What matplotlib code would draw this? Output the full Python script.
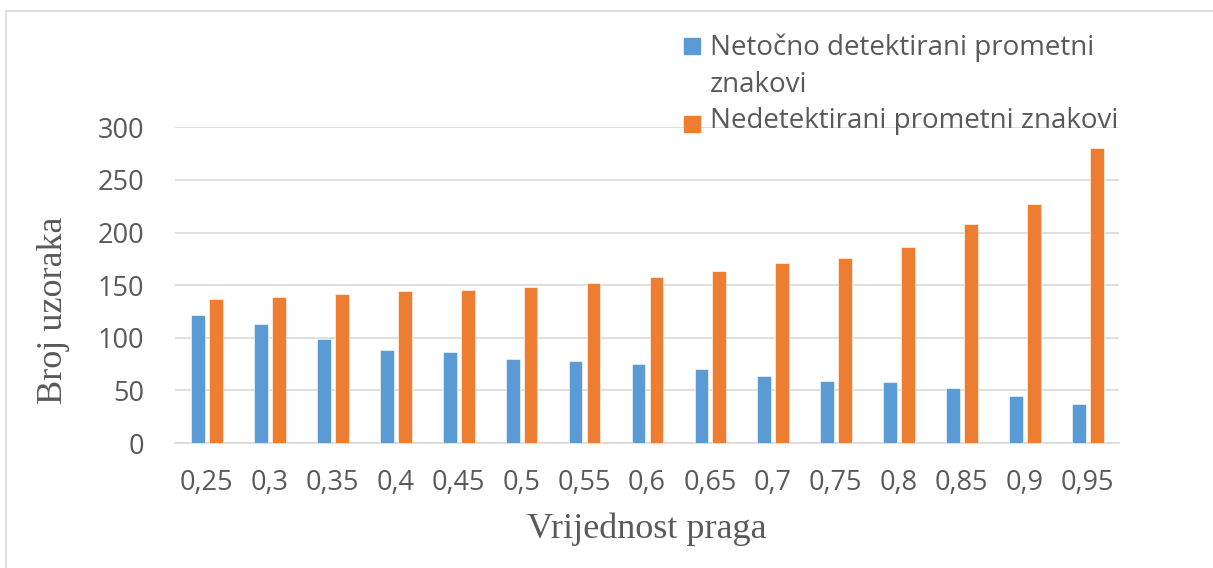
import matplotlib
matplotlib.use("Agg")
import matplotlib.pyplot as plt
import numpy as np
from matplotlib.lines import Line2D
from matplotlib.patches import Rectangle

# data
pragovi = ["0,25", "0,3", "0,35", "0,4", "0,45", "0,5", "0,55", "0,6",
           "0,65", "0,7", "0,75", "0,8", "0,85", "0,9", "0,95"]
netocno = [122, 113, 99, 88, 86, 80, 78, 75, 70, 64, 59, 58, 52, 45, 37]
nedetektirano = [137, 139, 142, 144, 145, 148, 152, 158, 163, 171, 176,
                 186, 208, 227, 280]
legenda = ["Netočno detektirani prometni\nznakovi",
           "Nedetektirani prometni znakovi"]

plava = "#5B9BD5"
narancasta = "#ED7D31"
siva = "#595959"
mreza = "#D9D9D9"
sans = "Open Sans"

W, H = 1213, 568
fig = plt.figure(figsize=(W / 100, H / 100), dpi=100)
ax = fig.add_axes([175 / W, 1 - 443 / H, (1119 - 175) / W, (443 - 127.3) / H])

x = np.arange(len(pragovi))
ax.bar(x - 0.135, netocno, width=0.22, color=plava, edgecolor="white",
       linewidth=0.4, zorder=3)
ax.bar(x + 0.15, nedetektirano, width=0.22, color=narancasta,
       edgecolor="white", linewidth=0.4, zorder=3)

ax.set_xlim(-0.5, len(pragovi) - 0.5)
ax.set_ylim(0, 300)
ax.set_yticks(range(0, 301, 50))
ax.set_xticks(x)
ax.set_xticklabels(pragovi)
ax.grid(axis="y", color=mreza, linewidth=1.2, zorder=0)
ax.tick_params(length=0, labelsize=19.5, labelcolor=siva)
ax.tick_params(axis="x", pad=19)
ax.tick_params(axis="y", pad=22)
for lbl in ax.get_xticklabels() + ax.get_yticklabels():
    lbl.set_family(sans)
for s in ["top", "right", "left"]:
    ax.spines[s].set_visible(False)
ax.spines["bottom"].set_color(mreza)
ax.spines["bottom"].set_linewidth(1.2)

# axis titles
fig.text(647 / W, 1 - 529 / H, "Vrijednost praga", family="Liberation Serif",
         fontsize=26, color=siva, ha="center", va="center")
fig.text(54 / W, 1 - 310 / H, "Broj uzoraka", family="Liberation Serif",
         fontsize=26, color=siva, ha="center", va="center", rotation=90)

# legend drawn by hand so the square sits next to the first line
fig.patches.append(Rectangle((684 / W, 1 - 54 / H), 16 / W, 16 / H,
                             transform=fig.transFigure, color=plava))
fig.patches.append(Rectangle((684 / W, 1 - 132 / H), 16 / W, 16 / H,
                             transform=fig.transFigure, color=narancasta))
fig.text(710 / W, 1 - 55 / H, legenda[0].split("\n")[0], family=sans,
         fontsize=20, color=siva, va="baseline")
fig.text(710 / W, 1 - 92 / H, legenda[0].split("\n")[1], family=sans,
         fontsize=20, color=siva, va="baseline")
fig.text(710 / W, 1 - 128 / H, legenda[1], family=sans,
         fontsize=20, color=siva, va="baseline")

# outer chart border
fig.lines.append(Line2D([6 / W, 6 / W], [0, 1 - 11 / H],
                        transform=fig.transFigure, color=mreza, linewidth=1.2))
fig.lines.append(Line2D([6 / W, 1], [1 - 11 / H, 1 - 11 / H],
                        transform=fig.transFigure, color=mreza, linewidth=1.2))

fig.savefig("out.png", dpi=100)
